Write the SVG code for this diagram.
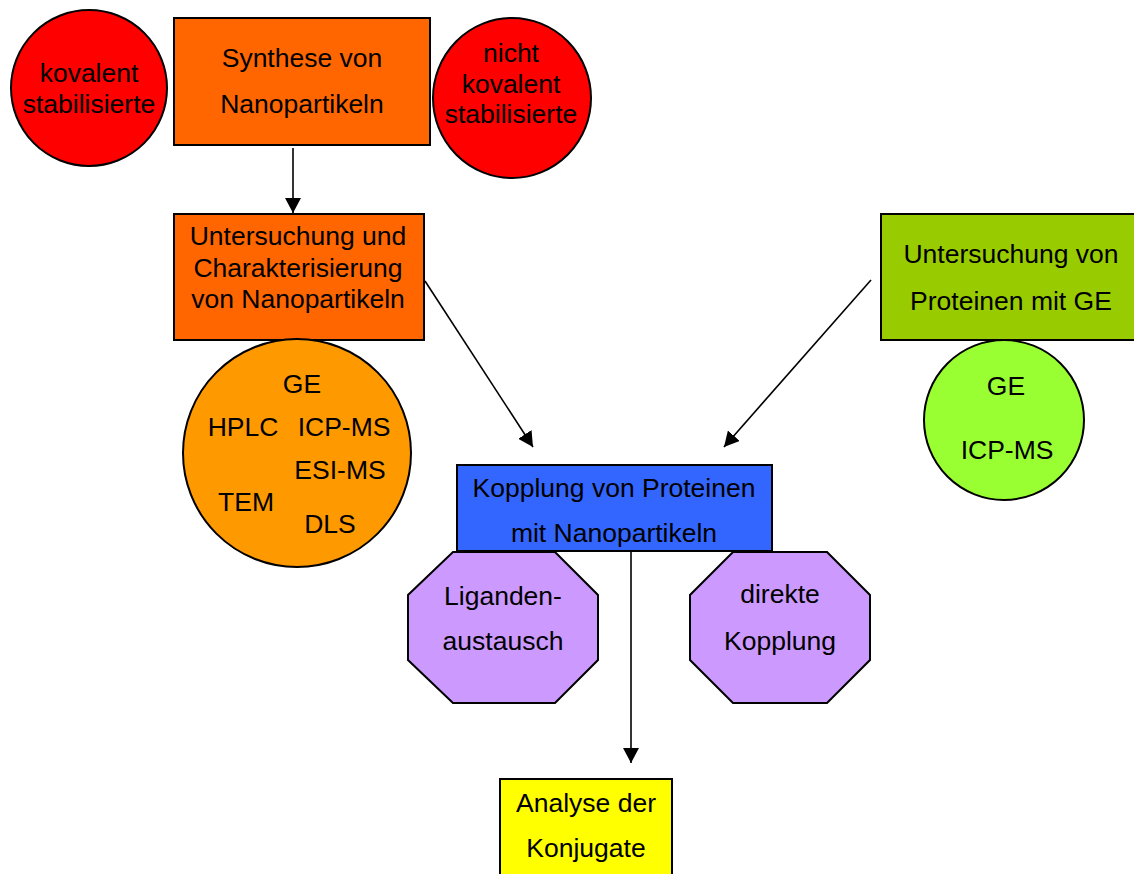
<svg xmlns="http://www.w3.org/2000/svg" width="1134" height="874" viewBox="0 0 1134 874">
<style>
text{font-family:"Liberation Sans",Arial,sans-serif;font-size:26.5px;fill:#000;text-anchor:middle}
.s{stroke:#000;stroke-width:2}
.c{stroke:#000;stroke-width:1.6;fill:none}
</style>
<defs>
<marker id="ah" markerUnits="userSpaceOnUse" markerWidth="16" markerHeight="16" refX="15" refY="8" orient="auto">
<path d="M0,0 L15,8 L0,16 Z" fill="#000"/>
</marker>
</defs>
<rect width="1134" height="874" fill="#fff"/>
<g id="kovalent">
<ellipse class="s" cx="89" cy="88" rx="78" ry="78" fill="#FF0000"/>
<text x="89" y="82">kovalent</text>
<text x="89" y="113">stabilisierte</text>
</g>
<g id="synthese">
<rect class="s" x="174" y="18" width="256" height="127" fill="#FF6600"/>
<text x="302" y="67">Synthese von</text>
<text x="302" y="113">Nanopartikeln</text>
</g>
<g id="nichtkovalent">
<ellipse class="s" cx="512" cy="98" rx="79" ry="80" fill="#FF0000"/>
<text x="511" y="62">nicht</text>
<text x="511" y="93">kovalent</text>
<text x="511" y="123">stabilisierte</text>
</g>
<g id="untersuchung">
<rect class="s" x="174" y="214" width="250" height="126" fill="#FF6600"/>
<text x="298" y="245">Untersuchung und</text>
<text x="298" y="277">Charakterisierung</text>
<text x="298" y="308">von Nanopartikeln</text>
</g>
<g id="methoden">
<circle class="s" cx="297" cy="453" r="114" fill="#FF9900"/>
<text x="302" y="393">GE</text>
<text x="243" y="436">HPLC</text>
<text x="344" y="436">ICP-MS</text>
<text x="340" y="479">ESI-MS</text>
<text x="246" y="511">TEM</text>
<text x="330" y="533">DLS</text>
</g>
<g id="proteine">
<rect class="s" x="881" y="214" width="260" height="126" fill="#99CC00"/>
<text x="1011" y="263">Untersuchung von</text>
<text x="1011" y="310">Proteinen mit GE</text>
</g>
<g id="methoden2">
<circle class="s" cx="1004" cy="420" r="80" fill="#99FF33"/>
<text x="1006" y="395">GE</text>
<text x="1007" y="459">ICP-MS</text>
</g>
<g id="kopplung">
<rect class="s" x="457" y="465" width="315" height="86" fill="#3366FF"/>
<text x="614" y="497">Kopplung von Proteinen</text>
<text x="614" y="542">mit Nanopartikeln</text>
</g>
<g id="ligandenaustausch">
<polygon class="s" points="453,552 555,552 598,595 598,660 555,703 453,703 408,660 408,595" fill="#CC99FF"/>
<text x="503" y="605">Liganden-</text>
<text x="503" y="650">austausch</text>
</g>
<g id="direktekopplung">
<polygon class="s" points="733,552 827,552 870,595 870,660 827,703 733,703 690,660 690,595" fill="#CC99FF"/>
<text x="780" y="603">direkte</text>
<text x="780" y="650">Kopplung</text>
</g>
<g id="analyse">
<rect class="s" x="500" y="779" width="172" height="100" fill="#FFFF00"/>
<text x="586" y="812">Analyse der</text>
<text x="586" y="857">Konjugate</text>
</g>
<g id="connectors">
<line class="c" x1="293" y1="148" x2="293" y2="213" marker-end="url(#ah)"/>
<line class="c" x1="425" y1="281" x2="533" y2="447" marker-end="url(#ah)"/>
<line class="c" x1="871" y1="280" x2="724" y2="447" marker-end="url(#ah)"/>
<line class="c" x1="631" y1="551" x2="631" y2="763" marker-end="url(#ah)"/>
</g>
</svg>
